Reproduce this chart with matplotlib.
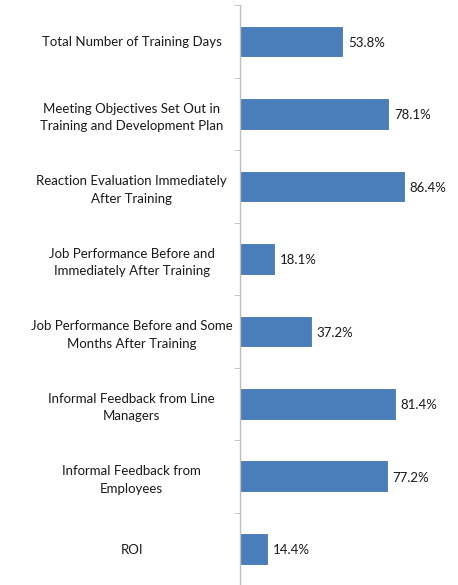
import matplotlib.pyplot as plt
import numpy as np

plt.rcParams['font.family'] = ['Lato', 'DejaVu Sans']

categories = [
    "Total Number of Training Days",
    "Meeting Objectives Set Out in\nTraining and Development Plan",
    "Reaction Evaluation Immediately\nAfter Training",
    "Job Performance Before and\nImmediately After Training",
    "Job Performance Before and Some\nMonths After Training",
    "Informal Feedback from Line\nManagers",
    "Informal Feedback from\nEmployees",
    "ROI",
]
values = [53.8, 78.1, 86.4, 18.1, 37.2, 81.4, 77.2, 14.4]

fig = plt.figure(figsize=(4.58, 5.85), dpi=100)
ax = fig.add_axes([0.524, 0.0, 0.415, 0.991])

y = np.arange(len(categories))
ax.barh(y, values, height=0.41, color='#4A7EBB', edgecolor='#4576B0', linewidth=0.6)
ax.set_ylim(len(categories) - 0.5, -0.5)
ax.set_xlim(0, 100)

for yi, v in zip(y, values):
    ax.annotate(f"{v:.1f}%", (v, yi), xytext=(4, -1), textcoords='offset points',
                va='center', ha='left', fontsize=9.5, color='#1a1a1a')

ax.set_yticks(y)
ax.set_yticklabels(categories, fontsize=9.5, color='#1a1a1a', ha='center',
                   multialignment='center', linespacing=1.55)
ax.tick_params(axis='y', which='major', length=0, pad=78)
ax.set_yticks(np.arange(-0.5, len(categories), 1), minor=True)
ax.tick_params(axis='y', which='minor', length=4, direction='out', color='#BFBFBF')
ax.set_xticks([])

for s in ['top', 'right', 'bottom']:
    ax.spines[s].set_visible(False)
ax.spines['left'].set_color('#BFBFBF')
ax.spines['left'].set_linewidth(1.0)

fig.savefig('out.png', dpi=100)
